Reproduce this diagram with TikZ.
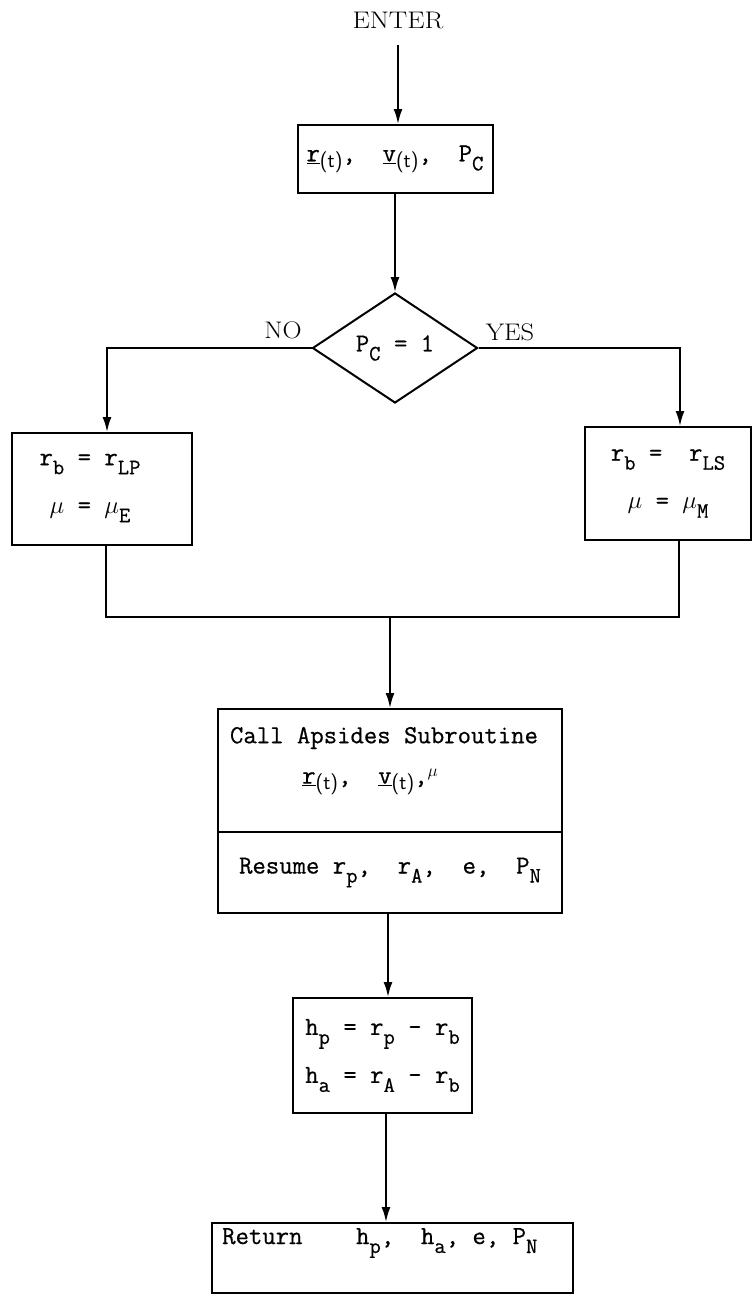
\documentclass[tikz,border=0pt]{standalone}
\usepackage{graphicx}
\usepackage{fontspec}
\setmonofont{Latin Modern Mono}[FakeBold=0.6]
\usetikzlibrary{shapes.geometric,arrows.meta}
\newcommand\vecu[1]{\underline{#1}}
\newcommand\sub[1]{\raisebox{-9pt}{\fontsize{22}{26}\selectfont #1}}
\newcommand\subt{\raisebox{-6pt}{\fontsize{21}{24}\selectfont\sffamily (t)}}
\tikzset{
  box/.style={draw, line width=2pt, inner sep=0pt, align=center,
    font=\ttfamily\fontsize{26}{30}\selectfont},
  txt/.style={inner sep=0pt, align=center, font=\ttfamily\fontsize{26}{30}\selectfont},
  lbl/.style={inner sep=0pt, font=\rmfamily\fontsize{24}{28}\selectfont},
  flow/.style={line width=2pt},
  arr/.style={flow, -{Latex[length=15pt,width=9pt]}},
}
\begin{document}
\begin{tikzpicture}[x=1pt,y=-1pt]
\useasboundingbox (0,0) rectangle (753,1304);
% nodes
\node[lbl] (enter) at (398,20) {\scalebox{1.15}[1]{ENTER}};
\node[box, minimum width=195pt, minimum height=68pt] (input) at (395,159)
  {\vecu{r}\subt,\ \ \vecu{v}\subt,\ \ P\sub{C}};
\node[box, diamond, aspect=1.5, minimum width=165pt, minimum height=110pt] (test) at (395,348)
  {P\sub{C} = 1};
\node[lbl] (no) at (283,330) {\scalebox{1.1}[1]{NO}};
\node[lbl] (yes) at (510,332) {\scalebox{1.1}[1]{YES}};
\node[box, minimum width=180pt, minimum height=112pt] (earth) at (102,489) {};
\node[txt] (earthtext) at (90,488) {r\sub{b} = r\sub{LP}\\[18pt]$\mu$ = $\mu$\sub{E}};
\node[box, minimum width=166pt, minimum height=113pt] (moon) at (668,483.5)
  {r\sub{b} = \ r\sub{LS}\\[18pt]$\mu$ = $\mu$\sub{M}};
\coordinate (join) at (390,617);
\node[box, minimum width=344pt, minimum height=123pt] (call) at (390,770.5) {};
\node[txt] (calltext) at (384,738) {Call Apsides Subroutine};
\node[txt] (callargs) at (370,782) {\vecu{r}\subt,\ \ \vecu{v}\subt,\raisebox{7pt}{\fontsize{18}{20}\selectfont$\mu$}};
\node[box, minimum width=344pt, minimum height=81pt] (resume) at (390,872.5)
  {Resume r\sub{p},\ \ r\sub{A},\ \ e,\ \ P\sub{N}};
\node[box, minimum width=179pt, minimum height=115pt] (hbox) at (382.5,1055.5)
  {h\sub{p} = r\sub{p} - r\sub{b}\\[18pt]h\sub{a} = r\sub{A} - r\sub{b}};
\node[box, minimum width=361pt, minimum height=70pt] (ret) at (392.5,1258) {};
\node[txt, anchor=west] (rettext) at (222,1243) {Return\ \ \ \ h\sub{p},\ \ h\sub{a}, e, P\sub{N}};
% connectors
\draw[arr, shorten <=16pt] (enter.south) -- (enter.south |- input.north);
\draw[arr] (input.south) -- (test.north);
\draw[arr] (test.west) -| ([xshift=5pt]earth.north);
\draw[arr] (test.east) -| ([xshift=12pt]moon.north);
\draw[flow] ([xshift=4pt]earth.south) |- (join) -| ([xshift=11pt]moon.south);
\draw[arr] (join) -- (call.north);
\draw[arr] ([xshift=-2pt]resume.south) -- ([xshift=-2pt]resume.south |- hbox.north);
\draw[arr] ([xshift=3.5pt]hbox.south) -- ([xshift=3.5pt]hbox.south |- ret.north);
\end{tikzpicture}
\end{document}
